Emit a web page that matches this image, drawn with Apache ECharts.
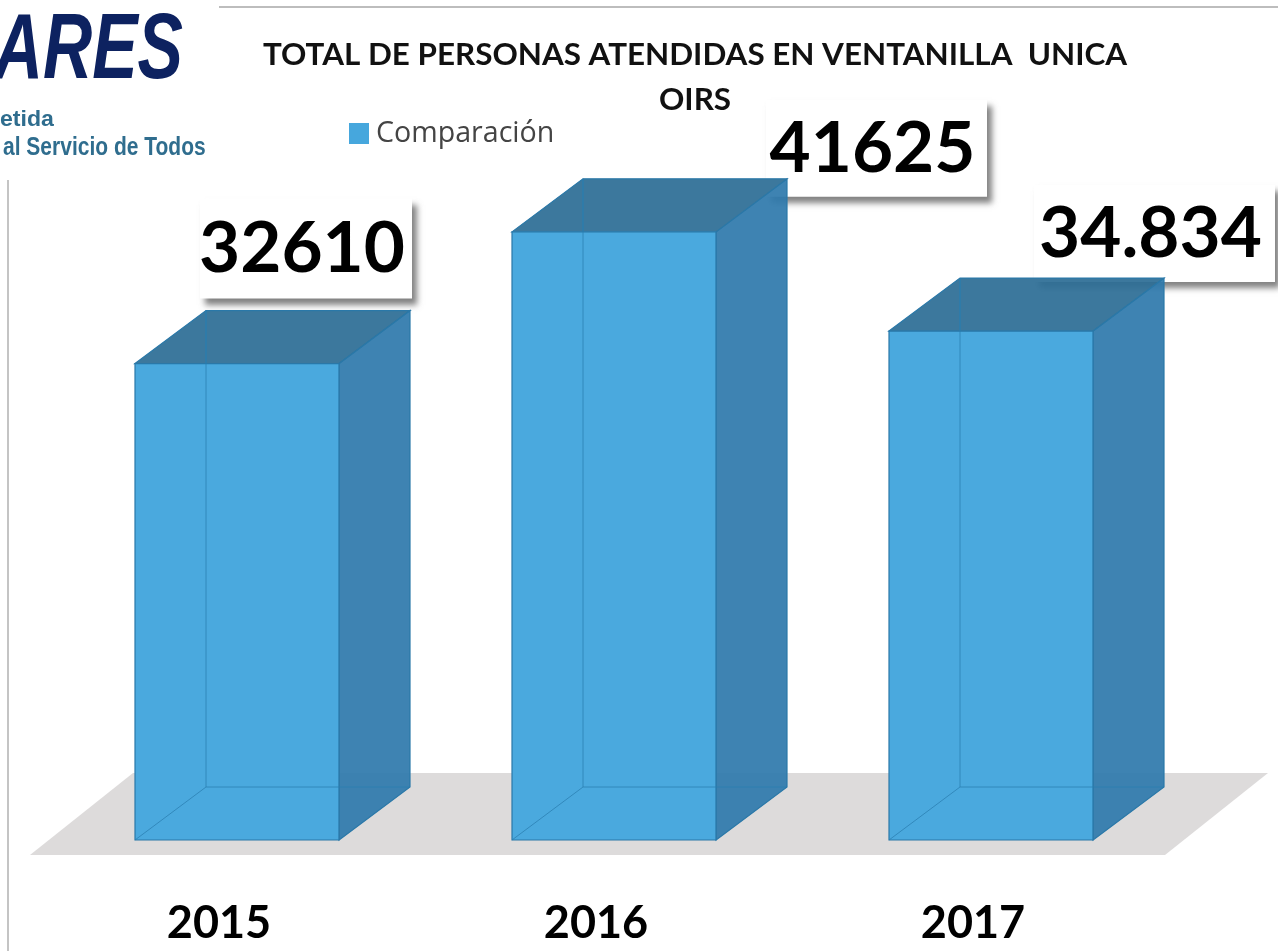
<!DOCTYPE html>
<html>
<head>
<meta charset="utf-8">
<title>OIRS</title>
<style>
html,body{margin:0;padding:0;background:#fff;}
#main{width:1278px;height:951px;}
</style>
<script src="https://cdn.jsdelivr.net/npm/echarts@6/dist/echarts.min.js"></script>
</head>
<body>
<div id="main"></div>
<script>
var years = ['2015', '2016', '2017'];
var atendidas = [32610, 41625, 34834];
var etiquetas = ['32610', '41625', '34.834'];

var myChart = echarts.init(document.getElementById('main'));

// cube look, in pixels
var anchoFrente = 204, fondoX = 71, fondoY = 53, corrimiento = 18;
// where each hand placed value box sits, relative to the front top right corner of its bar
var cajas = [
    {dx: 73, dy: -65, w: 212, h: 100},
    {dx: 271, dy: -35, w: 221, h: 97},
    {dx: 182, dy: -49, w: 241, h: 97}
];

function frente(api) {
    var p = api.coord([api.value(0), api.value(1)]);
    var base = api.coord([api.value(0), 0]);
    var left = p[0] + corrimiento - anchoFrente / 2;
    return {l: left, r: left + anchoFrente, t: p[1], b: base[1]};
}

function cara(pts, fill) {
    return {
        type: 'polygon',
        shape: {points: pts},
        style: {fill: fill, stroke: '#2a78a8', lineWidth: 1.2}
    };
}

function linea(x1, y1, x2, y2) {
    return {
        type: 'line',
        shape: {x1: x1, y1: y1, x2: x2, y2: y2},
        style: {stroke: 'rgba(42,125,176,0.75)', lineWidth: 1}
    };
}

function renderCubo(params, api) {
    var f = frente(api);
    return {
        type: 'group',
        children: [
            cara([[f.r, f.t], [f.r + fondoX, f.t - fondoY], [f.r + fondoX, f.b - fondoY], [f.r, f.b]], 'rgba(47,122,172,0.93)'),
            cara([[f.l, f.t], [f.l + fondoX, f.t - fondoY], [f.r + fondoX, f.t - fondoY], [f.r, f.t]], 'rgba(45,110,150,0.93)'),
            cara([[f.l, f.t], [f.r, f.t], [f.r, f.b], [f.l, f.b]], 'rgba(70,167,221,0.98)'),
            linea(f.l + fondoX, f.t - fondoY, f.l + fondoX, f.b - fondoY),
            linea(f.l + fondoX, f.b - fondoY, f.r + fondoX, f.b - fondoY),
            linea(f.l, f.b, f.l + fondoX, f.b - fondoY),
            linea(f.l + fondoX, f.t, f.l + fondoX, f.t - fondoY)
        ]
    };
}

function renderCaja(params, api) {
    var f = frente(api);
    var c = cajas[params.dataIndex];
    var right = f.r + c.dx, bottom = f.t + c.dy;
    return {
        type: 'group',
        children: [
            {
                type: 'rect',
                shape: {x: right - c.w, y: bottom - c.h, width: c.w, height: c.h},
                style: {fill: '#fff', shadowColor: 'rgba(90,90,90,0.75)', shadowBlur: 6, shadowOffsetX: 5, shadowOffsetY: 6}
            },
            {
                type: 'text',
                style: {
                    text: etiquetas[params.dataIndex],
                    x: right - c.w / 2 - 4,
                    y: bottom - c.h / 2 + 1,
                    align: 'center',
                    verticalAlign: 'middle',
                    fill: '#000',
                    font: 'bold 71px Lato'
                }
            }
        ]
    };
}

var datos = [];
for (var i = 0; i < years.length; i++) {
    datos.push([i, atendidas[i]]);
}

var option = {
    backgroundColor: '#fff',
    animation: false,
    title: {
        text: 'TOTAL DE PERSONAS ATENDIDAS EN VENTANILLA  UNICA\nOIRS',
        left: 690,
        top: 27,
        textAlign: 'center',
        textStyle: {fontFamily: 'Lato', fontWeight: 'bold', fontSize: 31.4, lineHeight: 45, color: '#111'}
    },
    legend: {
        left: 344,
        top: 114,
        itemWidth: 20,
        itemHeight: 21,
        itemGap: 0,
        icon: 'rect',
        data: ['Comparación'],
        textStyle: {fontFamily: 'Open Sans', fontSize: 28.6, color: '#444', padding: [0, 0, 0, 2]}
    },
    grid: {left: 30.5, right: 116.5, top: 109.5, bottom: 111},
    xAxis: {
        type: 'category',
        data: years,
        axisLine: {show: false},
        axisTick: {show: false},
        axisLabel: {margin: 61, fontFamily: 'Lato', fontWeight: 'bold', fontSize: 45, color: '#000'}
    },
    yAxis: {type: 'value', min: 0, max: 50000, show: false},
    graphic: [
        {type: 'polygon', z: 0, shape: {points: [[30, 855], [1165, 855], [1268, 773], [133, 773]]}, style: {fill: '#dddbdb'}},
        {type: 'line', shape: {x1: 219, y1: 7, x2: 1278, y2: 7}, style: {stroke: '#bdbdbd', lineWidth: 2}},
        {type: 'line', shape: {x1: 8, y1: 180, x2: 8, y2: 951}, style: {stroke: '#c4c4c4', lineWidth: 2}},
        {type: 'text', x: 183, y: 53, scaleX: 0.74, style: {text: 'ARES', align: 'right', verticalAlign: 'middle', fill: '#0d2260', font: 'italic bold 92px "Liberation Sans"'}},
        {type: 'text', x: 0, y: 120, scaleX: 1.05, style: {text: 'etida', align: 'left', verticalAlign: 'middle', fill: '#2f6d8e', font: 'bold 22px "Liberation Sans"'}},
        {type: 'text', x: 3, y: 148, scaleX: 0.84, style: {text: 'al Servicio de Todos', align: 'left', verticalAlign: 'middle', fill: '#2f6d8e', font: 'bold 25px "Liberation Sans"'}}
    ],
    series: [
        {
            name: 'cajas',
            type: 'custom',
            z: 2,
            clip: false,
            silent: true,
            renderItem: renderCaja,
            data: datos
        },
        {
            name: 'Comparación',
            type: 'custom',
            z: 3,
            clip: false,
            itemStyle: {color: '#46a7dd'},
            renderItem: renderCubo,
            data: datos
        }
    ]
};

myChart.setOption(option);
</script>
</body>
</html>
